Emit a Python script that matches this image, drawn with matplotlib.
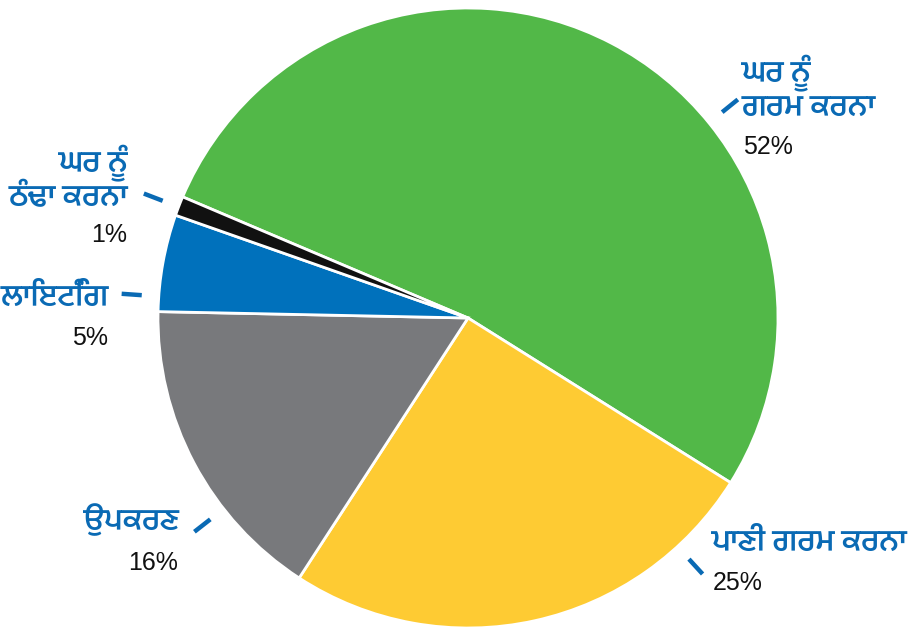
import matplotlib
matplotlib.use("Agg")
import numpy as np
import matplotlib.pyplot as plt

# Home energy use by end use
categories = ["ਘਰ ਨੂੰ\nਗਰਮ ਕਰਨਾ", "ਪਾਣੀ ਗਰਮ ਕਰਨਾ", "ਉਪਕਰਣ", "ਲਾਇਟਿੰਗ", "ਘਰ ਨੂੰ\nਠੰਢਾ ਕਰਨਾ"]
shares = [52, 25, 16, 5, 1]
pct_labels = ["52%", "25%", "16%", "5%", "1%"]
colors = ["#52b848", "#fecb33", "#78797c", "#0071bc", "#111111"]

LABEL_BLUE = "#0a6ab4"
GUR_FONT = "Mukta Mahee"

fig = plt.figure(figsize=(9.15, 6.27), dpi=100)
ax = fig.add_axes([0, 0, 1, 1])

R_PX = 310.0
cx, cy = 468.0, 318.0
W, H = 915.0, 627.0

wedges, _ = ax.pie(
    shares, colors=colors, startangle=157, counterclock=False, radius=1.0,
    wedgeprops=dict(edgecolor="white", linewidth=2.0),
)
ax.set_xlim(-cx / R_PX, (W - cx) / R_PX)
ax.set_ylim(-(H - cy) / R_PX, cy / R_PX)
ax.set_aspect("equal")
ax.axis("off")


def px(x, y):
    return ((x - cx) / R_PX, (cy - y) / R_PX)


# leader dash angle (deg) and label anchor in pixel coordinates
leader_angles = [39, -47.5, -142, 176, 159]
name_pos = [(742, 89), (712, 543), (179, 522), (109, 298), (128, 179)]
name_ha = ["left", "left", "right", "right", "right"]
pct_pos = [(743, 147), (713, 583), (178, 563), (108, 338), (127, 235)]

for i in range(len(shares)):
    a = np.deg2rad(leader_angles[i])
    r0, r1 = 1.055, 1.12
    ax.plot([r0 * np.cos(a), r1 * np.cos(a)], [r0 * np.sin(a), r1 * np.sin(a)],
            color=LABEL_BLUE, lw=3.2, solid_capstyle="butt")
    x, y = px(*name_pos[i])
    ax.text(x, y, categories[i], ha=name_ha[i], va="center", color=LABEL_BLUE,
            fontsize=23.5, family=[GUR_FONT, "DejaVu Sans"], fontweight="semibold",
            linespacing=1.02)
    x, y = px(*pct_pos[i])
    ax.text(x, y, pct_labels[i], ha=name_ha[i], va="center", color="#111111",
            fontsize=18, family=["Liberation Sans"])

fig.savefig("out.png", dpi=100)
